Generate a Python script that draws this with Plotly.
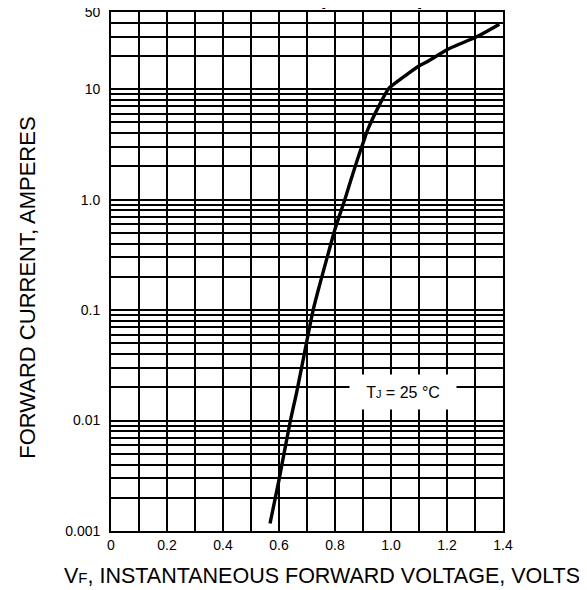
import plotly.graph_objects as go

# Forward voltage (V) and forward current (A)
vf = [0.568, 0.600, 0.639, 0.664, 0.701, 0.722, 0.744, 0.772, 0.801, 0.835,
      0.860, 0.881, 0.901, 0.917, 0.951, 0.990, 1.000, 1.050, 1.100, 1.127,
      1.205, 1.306, 1.387]
ifwd = [0.00117, 0.0029, 0.0095, 0.0185, 0.055, 0.100, 0.165, 0.30, 0.55, 1.0,
        1.6, 2.35, 3.3, 4.3, 6.6, 10.0, 10.6, 13.2, 16.2, 17.6,
        23.1, 29.8, 38.7]

x_tickvals = [0, 0.2, 0.4, 0.6, 0.8, 1.0, 1.2, 1.4]
x_ticktext = ["0", "0.2", "0.4", "0.6", "0.8", "1.0", "1.2", "1.4"]
y_tickvals = [0.001, 0.01, 0.1, 1, 10, 50]
y_ticktext = ["0.001", "0.01", "0.1", "1.0", "10", "50"]
y_minor = [m * 10.0 ** d for d in range(-3, 1) for m in range(2, 10)] + [20, 30, 40]

FONT = "Liberation Sans, Arial, Helvetica, sans-serif"
GRIDW = 1.8

fig = go.Figure()
fig.add_trace(go.Scatter(
    x=vf, y=ifwd, mode="lines",
    line=dict(color="black", width=3.4, shape="spline", smoothing=0.8),
    showlegend=False, hoverinfo="skip",
))

fig.update_xaxes(
    range=[0, 1.4], tickmode="array", tickvals=x_tickvals, ticktext=x_ticktext,
    showgrid=True, gridcolor="black", gridwidth=GRIDW,
    minor=dict(dtick=0.1, tick0=0, showgrid=True, gridcolor="black", gridwidth=GRIDW),
    showline=True, linecolor="black", linewidth=GRIDW, mirror=True,
    zeroline=False, ticks="", ticklabelstandoff=0, automargin=False,
    ticklabeloverflow="allow",
    tickfont=dict(family=FONT, size=14, color="black"),
)
fig.update_yaxes(
    type="log", range=[-3, 1.69897], tickmode="array",
    tickvals=y_tickvals, ticktext=y_ticktext,
    showgrid=True, gridcolor="black", gridwidth=GRIDW,
    minor=dict(tickmode="array", tickvals=y_minor, showgrid=True,
               gridcolor="black", gridwidth=GRIDW),
    showline=True, linecolor="black", linewidth=GRIDW, mirror=True,
    zeroline=False, ticks="", ticklabelstandoff=6, automargin=False,
    ticklabeloverflow="allow",
    tickfont=dict(family=FONT, size=14, color="black"),
)

fig.update_layout(
    width=579, height=582,
    margin=dict(l=103, r=84, t=4, b=59, autoexpand=False),
    paper_bgcolor="white", plot_bgcolor="white",
    font=dict(family=FONT, color="black"),
    annotations=[
        dict(text="<b>CHARACTERISTICS (PER LEG)</b>", xref="paper", yref="paper",
             x=0.403, y=1, xanchor="center", yanchor="bottom", yshift=1,
             showarrow=False, font=dict(size=21, family=FONT, color="black")),
        dict(text="T<span style='font-size:11px'>J</span> = 25 °C", xref="paper", yref="paper",
             x=0.745, y=0.268, xanchor="center", yanchor="middle",
             showarrow=False, bgcolor="white", width=90, height=18, borderpad=8,
             font=dict(size=16, family=FONT, color="black")),
        dict(text="V<span style='font-size:15px'>F</span>, INSTANTANEOUS FORWARD VOLTAGE, VOLTS",
             xref="paper", yref="paper", x=0.538, y=-0.0867,
             xanchor="center", yanchor="middle", showarrow=False,
             font=dict(size=21.5, family=FONT, color="black")),
        dict(text="FORWARD CURRENT, AMPERES", xref="paper", yref="paper",
             x=-0.214, y=0.469, xanchor="center", yanchor="middle",
             textangle=-90, showarrow=False,
             font=dict(size=22, family=FONT, color="black")),
    ],
)

fig.write_html("out.html")
